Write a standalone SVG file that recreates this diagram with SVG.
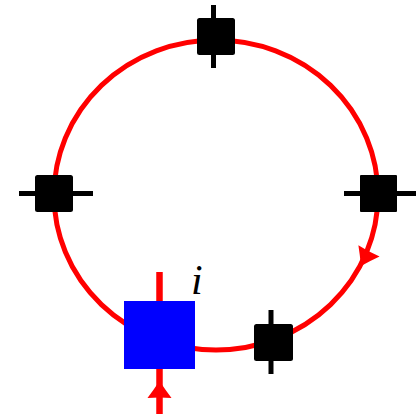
<svg xmlns="http://www.w3.org/2000/svg" width="416" height="414" viewBox="0 0 416 414">
  <style>
    .wire { fill: none; stroke: #ff0000; stroke-width: 5; }
    .leg { fill: none; stroke: #ff0000; stroke-width: 6.5; }
    .stem { stroke: #000000; stroke-width: 5; }
    .box { fill: #000000; }
    .head { fill: #ff0000; }
    .lbl { font-family: "Liberation Serif", "DejaVu Serif", serif; font-style: italic; font-size: 42px; fill: #000000; }
  </style>
  <defs>
    <path id="ah" d="M0,0 Q-9,-6 -17,-12 Q-16,0 -17,12 Q-9,6 0,0 Z"/>
  </defs>
  <rect width="416" height="414" fill="#ffffff"/>
  <g id="connectors">
    <ellipse class="wire" cx="216" cy="195" rx="162" ry="155"/>
    <line class="leg" x1="159.5" y1="272" x2="159.5" y2="414"/>
    <use href="#ah" class="head" transform="translate(361,266) rotate(118)"/>
    <use href="#ah" class="head" transform="translate(159.5,381) rotate(-90)"/>
  </g>
  <g id="node-top">
    <line class="stem" x1="213.5" y1="5" x2="213.5" y2="68"/>
    <rect class="box" x="197" y="18" width="38" height="37" rx="2.5"/>
  </g>
  <g id="node-left">
    <line class="stem" x1="19" y1="193.5" x2="93" y2="193.5"/>
    <rect class="box" x="35" y="175" width="38" height="37" rx="2.5"/>
  </g>
  <g id="node-right">
    <line class="stem" x1="344" y1="193.5" x2="416" y2="193.5"/>
    <rect class="box" x="360" y="175" width="37" height="37" rx="1"/>
  </g>
  <g id="node-bottom">
    <line class="stem" x1="271" y1="310" x2="271" y2="374"/>
    <rect class="box" x="254" y="324" width="39" height="37" rx="2.5"/>
  </g>
  <g id="node-i">
    <rect x="124" y="301" width="71" height="68" fill="#0000ff"/>
    <text class="lbl" x="191" y="294">i</text>
  </g>
</svg>
